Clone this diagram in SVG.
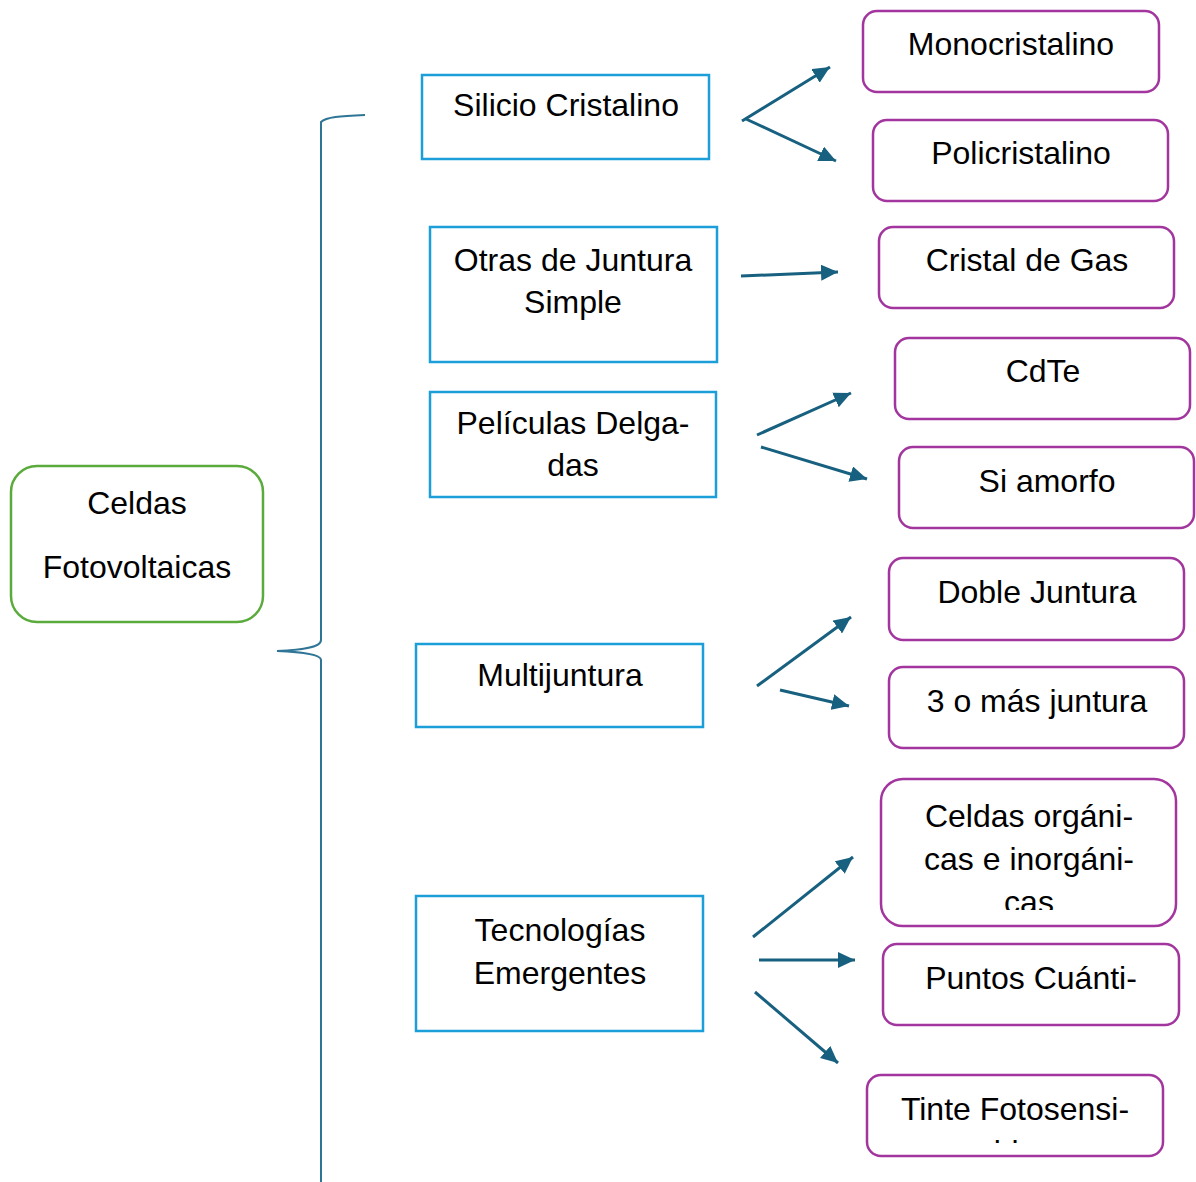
<svg xmlns="http://www.w3.org/2000/svg" width="1196" height="1182" viewBox="0 0 1196 1182">
<style>
text{font-family:"Liberation Sans",Arial,sans-serif;font-size:32px;fill:#000;text-anchor:middle}
.blue{fill:#fff;stroke:#1c9fd8;stroke-width:2.5}
.purple{fill:#fff;stroke:#a2359e;stroke-width:2.5}
.green{fill:#fff;stroke:#5aab3c;stroke-width:2.5}
.arr{stroke:#17607f;stroke-width:3;fill:none;marker-end:url(#ah)}
.brace{stroke:#2f7596;stroke-width:2;fill:none}
</style>
<defs>
<marker id="ah" markerUnits="userSpaceOnUse" markerWidth="18" markerHeight="16" refX="17" refY="8" orient="auto">
<path d="M0,0 L17,8 L0,16 z" fill="#17607f"/>
</marker>
<clipPath id="clipCeldas"><rect x="881" y="779" width="296" height="131"/></clipPath>
<clipPath id="clipTinte"><rect x="867" y="1075" width="296" height="68"/></clipPath>
</defs>
<rect width="1196" height="1182" fill="#fff"/>
<g id="brace">
<path class="brace" d="M365,115 C340,116 326,117 321,122 L321,640 C321,648 300,650 277,651 C300,652 321,654 321,660 L321,1182"/>
</g>
<g id="root">
<rect class="green" x="11" y="466" width="252" height="156" rx="26"/>
<text x="137" y="514">Celdas</text>
<text x="137" y="578">Fotovoltaicas</text>
</g>
<g id="silicio">
<rect class="blue" x="422" y="75" width="287" height="84"/>
<text x="566" y="116">Silicio Cristalino</text>
</g>
<g id="otras">
<rect class="blue" x="430" y="227" width="287" height="135"/>
<text x="573" y="271">Otras de Juntura</text>
<text x="573" y="313">Simple</text>
</g>
<g id="peliculas">
<rect class="blue" x="430" y="392" width="286" height="105"/>
<text x="573" y="434">Películas Delga-</text>
<text x="573" y="476">das</text>
</g>
<g id="multijuntura">
<rect class="blue" x="416" y="644" width="287" height="83"/>
<text x="560" y="686">Multijuntura</text>
</g>
<g id="tecnologias">
<rect class="blue" x="416" y="896" width="287" height="135"/>
<text x="560" y="941">Tecnologías</text>
<text x="560" y="984">Emergentes</text>
</g>
<g id="mono">
<rect class="purple" x="863" y="11" width="296" height="81" rx="14"/>
<text x="1011" y="55">Monocristalino</text>
</g>
<g id="poli">
<rect class="purple" x="873" y="120" width="295" height="81" rx="14"/>
<text x="1021" y="164">Policristalino</text>
</g>
<g id="cristalgas">
<rect class="purple" x="879" y="227" width="295" height="81" rx="14"/>
<text x="1027" y="271">Cristal de Gas</text>
</g>
<g id="cdte">
<rect class="purple" x="895" y="338" width="295" height="81" rx="14"/>
<text x="1043" y="382">CdTe</text>
</g>
<g id="siamorfo">
<rect class="purple" x="899" y="447" width="295" height="81" rx="14"/>
<text x="1047" y="492">Si amorfo</text>
</g>
<g id="doble">
<rect class="purple" x="889" y="558" width="295" height="82" rx="14"/>
<text x="1037" y="603">Doble Juntura</text>
</g>
<g id="tres">
<rect class="purple" x="889" y="667" width="295" height="81" rx="14"/>
<text x="1037" y="712">3 o más juntura</text>
</g>
<g id="organicas">
<rect class="purple" x="881" y="779" width="295" height="147" rx="22"/>
<text x="1029" y="827">Celdas orgáni-</text>
<text x="1029" y="870">cas e inorgáni-</text>
<text x="1029" y="913" clip-path="url(#clipCeldas)">cas</text>
</g>
<g id="puntos">
<rect class="purple" x="883" y="944" width="296" height="81" rx="14"/>
<text x="1031" y="989">Puntos Cuánti-</text>
</g>
<g id="tinte">
<rect class="purple" x="867" y="1075" width="296" height="81" rx="14"/>
<text x="1015" y="1120">Tinte Fotosensi-</text>
<text x="1015" y="1163" clip-path="url(#clipTinte)">ble</text>
</g>
<g id="connectors">
<line class="arr" x1="742" y1="121" x2="830" y2="67"/>
<line class="arr" x1="746" y1="119" x2="836" y2="161"/>
<line class="arr" x1="741" y1="276" x2="838" y2="272"/>
<line class="arr" x1="757" y1="435" x2="851" y2="393"/>
<line class="arr" x1="761" y1="447" x2="867" y2="479"/>
<line class="arr" x1="757" y1="686" x2="851" y2="617"/>
<line class="arr" x1="780" y1="690" x2="849" y2="706"/>
<line class="arr" x1="753" y1="937" x2="853" y2="857"/>
<line class="arr" x1="759" y1="960" x2="855" y2="960"/>
<line class="arr" x1="755" y1="992" x2="838" y2="1063"/>
</g>
</svg>
